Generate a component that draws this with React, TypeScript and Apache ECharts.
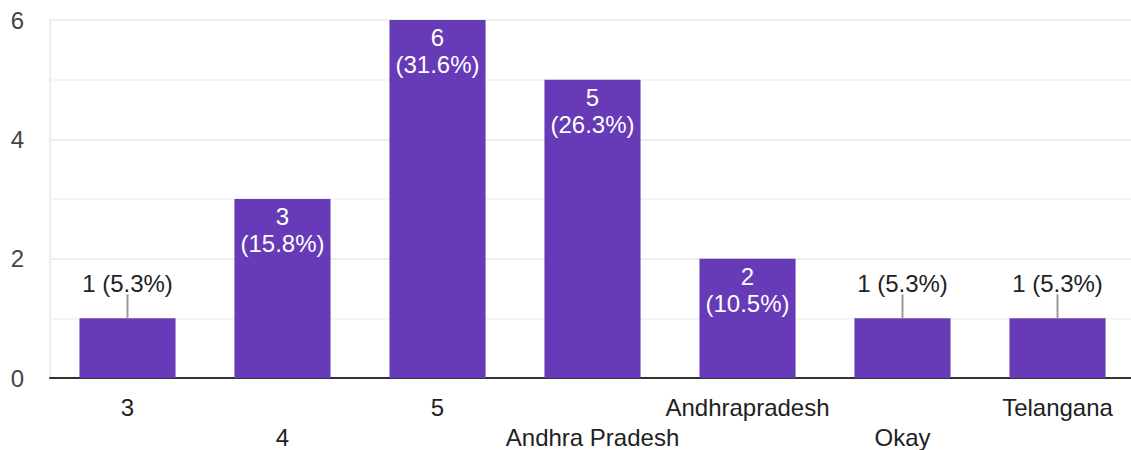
import React, { useEffect, useRef } from "react";
import * as echarts from "echarts";

const categories = ["3", "4", "5", "Andhra Pradesh", "Andhrapradesh", "Okay", "Telangana"];
const counts = [1, 3, 6, 5, 2, 1, 1];
const yTicks = [0, 2, 4, 6];

const total = counts.reduce((a, b) => a + b, 0);
const pct = (v: number) => ((v / total) * 100).toFixed(1) + "%";
const FONT = "'Liberation Sans', Arial, sans-serif";
const FS = 24;

export default function App() {
  const ref = useRef<HTMLDivElement>(null);
  useEffect(() => {
    if (!ref.current) return;
    const chart = echarts.init(ref.current, null, { renderer: "svg" });
    chart.setOption({
      animation: false,
      backgroundColor: "#ffffff",
      textStyle: { fontFamily: FONT },
      grid: {
        left: 50,
        right: 0,
        top: 20,
        bottom: 72,
        containLabel: false,
        outerBoundsMode: "none",
      },
      xAxis: {
        type: "category",
        data: categories,
        axisLine: { show: true, lineStyle: { color: "#333333", width: 2 } },
        axisTick: { show: false },
        axisLabel: {
          interval: 0,
          margin: 14,
          color: "#222222",
          fontSize: FS,
          lineHeight: 30,
          fontFamily: FONT,
          formatter: (v: string, i: number) => (i % 2 === 1 ? "\n" + v : v),
        },
      },
      yAxis: {
        type: "value",
        min: 0,
        max: 6,
        interval: 1,
        axisLine: { show: true, lineStyle: { color: "#eeeeee", width: 2 } },
        axisTick: { show: false },
        splitLine: { show: true, lineStyle: { color: ["#eeeeee", "#f5f5f5"], width: 2 } },
        axisLabel: {
          margin: 26,
          color: "#444444",
          fontSize: FS,
          fontFamily: FONT,
          formatter: (v: number) => (yTicks.includes(v) ? String(v) : ""),
        },
      },
      series: [
        {
          type: "bar",
          barWidth: "62%",
          data: counts.map((v) => ({
            value: v,
            label:
              v >= 2
                ? {
                    show: true,
                    position: "insideTop",
                    distance: 4,
                    color: "#ffffff",
                    fontSize: FS,
                    lineHeight: 27,
                    fontFamily: FONT,
                    formatter: () => v + "\n(" + pct(v) + ")",
                  }
                : {
                    show: true,
                    position: "top",
                    distance: 22,
                    color: "#222222",
                    fontSize: FS,
                    lineHeight: 26,
                    fontFamily: FONT,
                    formatter: () => v + " (" + pct(v) + ")",
                  },
          })),
          itemStyle: { color: "#673ab7" },
        },
        {
          type: "custom",
          silent: true,
          z: 5,
          data: counts.map((v, i) => [i, v]),
          renderItem: (params: any, api: any) => {
            const v = api.value(1);
            if (v >= 2) return { type: "group", children: [] };
            const p = api.coord([api.value(0), v]);
            return {
              type: "line",
              shape: { x1: p[0], y1: p[1], x2: p[0], y2: p[1] - 24 },
              style: { stroke: "#999999", lineWidth: 2 },
            };
          },
        },
      ],
    });
    return () => chart.dispose();
  }, []);
  return (
    <div
      ref={ref}
      style={{ position: "absolute", left: 0, top: 0, width: 1135, height: 450 }}
    />
  );
}
